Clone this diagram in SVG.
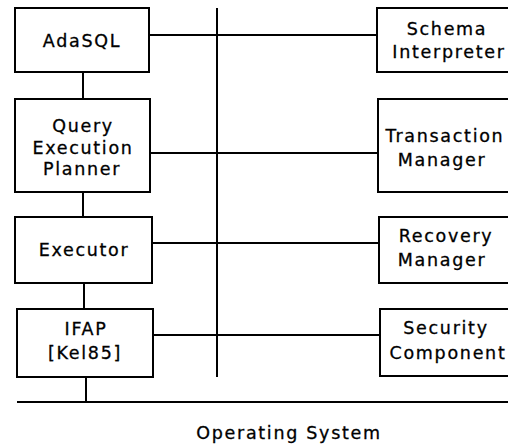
<svg xmlns="http://www.w3.org/2000/svg" width="508" height="447" viewBox="0 0 508 447">
<style>
rect{fill:#fff;stroke:#000;stroke-width:2}
line{stroke:#000;stroke-width:2}
text{font-family:"DejaVu Sans",sans-serif;font-size:17.5px;letter-spacing:1.7px;text-anchor:middle;fill:#000;stroke:#000;stroke-width:0.3}
</style>
<rect x="0" y="0" width="508" height="447" style="stroke:none"/>
<g id="connectors">
<line x1="217" y1="8" x2="217" y2="377"/>
<line x1="149" y1="35" x2="377" y2="35"/>
<line x1="150" y1="153" x2="378" y2="153"/>
<line x1="152" y1="243" x2="379" y2="243"/>
<line x1="153" y1="335" x2="380" y2="335"/>
<line x1="83" y1="72" x2="83" y2="99"/>
<line x1="83" y1="192" x2="83" y2="217"/>
<line x1="84" y1="283" x2="84" y2="309"/>
<line x1="86" y1="377" x2="86" y2="402"/>
<line x1="17" y1="402" x2="508" y2="402"/>
</g>
<g id="adasql"><rect x="15" y="8" width="134" height="64"/><text x="82" y="47">AdaSQL</text></g>
<g id="qep"><rect x="15" y="99" width="135" height="93"/><text x="83" y="132">Query</text><text x="83" y="154">Execution</text><text x="82" y="175">Planner</text></g>
<g id="executor"><rect x="15" y="217" width="137" height="66"/><text x="84" y="256">Executor</text></g>
<g id="ifap"><rect x="17" y="309" width="136" height="68"/><text x="86" y="335">IFAP</text><text x="85" y="359">[Kel85]</text></g>
<g id="schema"><rect x="377" y="8" width="140" height="64"/><text x="447" y="35">Schema</text><text x="449" y="58">Interpreter</text></g>
<g id="transaction"><rect x="378" y="99" width="140" height="93"/><text x="445" y="142">Transaction</text><text x="442" y="166">Manager</text></g>
<g id="recovery"><rect x="379" y="217" width="140" height="66"/><text x="446" y="242">Recovery</text><text x="442" y="266">Manager</text></g>
<g id="security"><rect x="380" y="309" width="140" height="67"/><text x="446" y="334">Security</text><text x="448" y="359">Component</text></g>
<g id="os"><text x="289" y="439">Operating System</text></g>
</svg>
